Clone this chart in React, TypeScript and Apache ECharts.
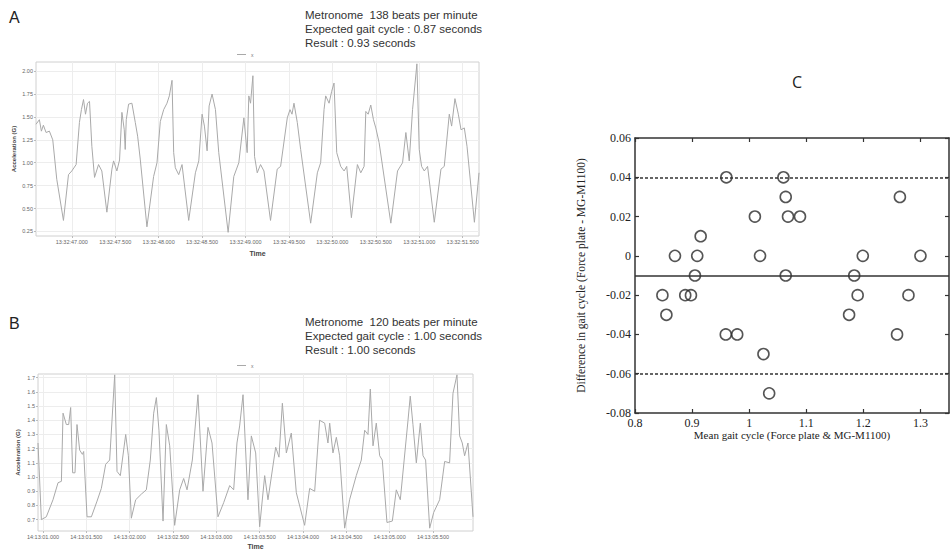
import React, { useEffect, useRef } from "react";
import * as echarts from "echarts";

// Panel A: accelerometer trace (seconds after 13:32:00, acceleration in G)
const aTrace: [number, number][] = [
  [46.588, 1.42], [46.627, 1.47], [46.65, 1.345], [46.673, 1.41], [46.704, 1.33], [46.742, 1.345],
  [46.781, 1.25], [46.827, 0.82], [46.904, 0.37], [46.962, 0.87], [47.0, 0.91], [47.05, 0.98],
  [47.088, 1.44], [47.111, 1.58], [47.135, 1.69], [47.158, 1.53], [47.181, 1.65], [47.204, 1.67],
  [47.231, 1.18], [47.262, 0.84], [47.308, 0.98], [47.346, 0.91], [47.404, 0.46], [47.462, 0.93],
  [47.481, 1.02], [47.519, 0.91], [47.55, 1.03], [47.577, 1.55], [47.604, 1.36], [47.615, 1.145],
  [47.627, 1.47], [47.654, 1.64], [47.692, 1.65], [47.731, 1.44], [47.758, 1.29], [47.788, 1.04],
  [47.865, 0.3], [47.942, 0.85], [47.981, 1.0], [48.019, 1.45], [48.058, 1.58], [48.096, 1.65],
  [48.123, 1.73], [48.154, 1.9], [48.173, 1.11], [48.192, 0.945], [48.231, 0.87], [48.269, 0.98],
  [48.346, 0.37], [48.423, 0.89], [48.462, 1.02], [48.5, 1.53], [48.527, 1.4], [48.558, 1.13],
  [48.581, 1.62], [48.615, 1.75], [48.654, 1.58], [48.692, 1.11], [48.8, 0.24], [48.865, 0.85],
  [48.923, 1.0], [48.981, 1.49], [49.019, 1.11], [49.038, 1.73], [49.058, 1.65], [49.085, 1.95],
  [49.104, 1.07], [49.135, 0.89], [49.173, 0.98], [49.212, 0.91], [49.288, 0.37], [49.365, 0.93],
  [49.404, 0.96], [49.481, 1.49], [49.512, 1.58], [49.535, 1.53], [49.558, 1.65], [49.596, 1.44],
  [49.635, 1.145], [49.75, 0.34], [49.827, 0.89], [49.865, 1.0], [49.904, 1.58], [49.923, 1.73],
  [49.962, 1.65], [49.992, 1.78], [50.019, 1.87], [50.05, 1.11], [50.096, 0.96], [50.135, 0.91],
  [50.165, 0.96], [50.219, 0.4], [50.288, 0.98], [50.327, 0.89], [50.365, 0.96], [50.385, 1.56],
  [50.412, 1.53], [50.442, 1.63], [50.473, 1.47], [50.5, 1.38], [50.538, 1.22], [50.673, 0.34],
  [50.75, 0.91], [50.808, 1.0], [50.846, 1.33], [50.885, 1.02], [50.923, 1.58], [50.973, 2.08],
  [51.0, 1.145], [51.027, 0.96], [51.058, 0.91], [51.096, 0.96], [51.173, 0.35], [51.25, 0.93],
  [51.288, 0.96], [51.346, 1.53], [51.373, 1.4], [51.411, 1.7], [51.45, 1.53], [51.481, 1.36],
  [51.519, 1.38], [51.55, 1.18], [51.635, 0.35], [51.688, 0.89],
];
const aTimeTicks = [47.0, 47.5, 48.0, 48.5, 49.0, 49.5, 50.0, 50.5, 51.0, 51.5];
const aAccTicks = [0.25, 0.5, 0.75, 1.0, 1.25, 1.5, 1.75, 2.0];
const aInfo = [
  "Metronome  138 beats per minute",
  "Expected gait cycle : 0.87 seconds",
  "Result : 0.93 seconds",
];

// Panel B: accelerometer trace (seconds after 14:13:00, acceleration in G)
const bTrace: [number, number][] = [
  [0.942, 1.24], [0.981, 0.7], [1.038, 0.72], [1.115, 0.84], [1.173, 0.96], [1.212, 0.97],
  [1.231, 1.45], [1.269, 1.37], [1.296, 1.37], [1.319, 1.49], [1.342, 1.03], [1.369, 1.03],
  [1.392, 1.37], [1.423, 1.19], [1.454, 1.16], [1.469, 1.18], [1.508, 0.72], [1.558, 0.72],
  [1.623, 0.83], [1.673, 0.92], [1.723, 1.09], [1.769, 1.12], [1.827, 1.72], [1.854, 1.04],
  [1.892, 1.01], [1.954, 1.3], [1.985, 1.15], [2.019, 0.71], [2.069, 0.84], [2.135, 0.88],
  [2.192, 0.91], [2.238, 1.12], [2.277, 1.45], [2.308, 1.56], [2.338, 1.33], [2.385, 0.69],
  [2.423, 1.37], [2.462, 1.22], [2.519, 0.66], [2.577, 0.91], [2.623, 0.99], [2.662, 0.91],
  [2.723, 1.12], [2.788, 1.58], [2.846, 0.9], [2.904, 1.35], [2.95, 1.24], [3.019, 0.72],
  [3.085, 0.82], [3.154, 0.94], [3.2, 0.91], [3.238, 1.24], [3.269, 1.36], [3.308, 1.58],
  [3.365, 0.84], [3.404, 1.29], [3.454, 1.17], [3.5, 0.65], [3.558, 1.01], [3.596, 0.84],
  [3.685, 1.21], [3.723, 1.14], [3.762, 1.52], [3.808, 1.17], [3.865, 1.31], [3.923, 0.89],
  [4.019, 0.66], [4.077, 0.92], [4.135, 0.9], [4.192, 1.4], [4.25, 1.38], [4.288, 1.24],
  [4.308, 1.38], [4.346, 1.17], [4.385, 1.28], [4.423, 1.15], [4.481, 0.64], [4.538, 0.84],
  [4.615, 1.01], [4.673, 1.12], [4.712, 1.33], [4.75, 1.3], [4.777, 1.62], [4.808, 1.22],
  [4.846, 1.38], [4.885, 1.15], [4.915, 1.12], [4.969, 0.68], [5.031, 0.69], [5.077, 0.91],
  [5.123, 0.84], [5.212, 1.4], [5.238, 1.57], [5.269, 1.37], [5.308, 1.1], [5.331, 1.24],
  [5.354, 1.38], [5.385, 1.15], [5.415, 1.12], [5.462, 0.64], [5.508, 0.75], [5.577, 0.84],
  [5.635, 1.11], [5.692, 1.1], [5.731, 1.59], [5.777, 1.72], [5.808, 1.29], [5.838, 1.24],
  [5.865, 1.15], [5.904, 1.24], [5.962, 0.72],
];
const bTimeTicks = [1.0, 1.5, 2.0, 2.5, 3.0, 3.5, 4.0, 4.5, 5.0, 5.5];
const bAccTicks = [0.7, 0.8, 0.9, 1.0, 1.1, 1.2, 1.3, 1.4, 1.5, 1.6, 1.7];
const bInfo = [
  "Metronome  120 beats per minute",
  "Expected gait cycle : 1.00 seconds",
  "Result : 1.00 seconds",
];

// Panel C: Bland-Altman points [mean gait cycle, difference]
const cPoints: [number, number][] = [
  [0.96, 0.04], [1.06, 0.04], [1.064, 0.03], [1.264, 0.03], [1.01, 0.02], [1.068, 0.02],
  [1.089, 0.02], [0.915, 0.01], [0.87, 0.0], [0.909, 0.0], [1.019, 0.0], [1.199, 0.0],
  [1.3, 0.0], [0.905, -0.01], [1.064, -0.01], [1.184, -0.01], [0.848, -0.02], [0.888, -0.02],
  [0.898, -0.02], [1.19, -0.02], [1.279, -0.02], [0.855, -0.03], [1.175, -0.03], [0.959, -0.04],
  [0.979, -0.04], [1.259, -0.04], [1.025, -0.05], [1.035, -0.07],
];
const cBias = -0.0095;
const cUpper = 0.0435;
const cLower = -0.0625;
const cXTicks = [0.8, 0.9, 1.0, 1.1, 1.2, 1.3];
const cYTicks = [-0.08, -0.06, -0.04, -0.02, 0, 0.02, 0.04, 0.06];

const SANS = '"Liberation Sans", Arial, sans-serif';
const SERIF = '"Liberation Serif", "Times New Roman", serif';

function traceX(grid: number, min: number, max: number, ticks: number[], prefix: string, nameGap: number) {
  return {
    gridIndex: grid,
    type: "value",
    min,
    max,
    axisLine: { show: false },
    axisTick: { show: true, customValues: ticks, length: 2, lineStyle: { color: "#bbb" } },
    axisLabel: {
      customValues: ticks,
      fontSize: 5.5,
      fontFamily: SANS,
      color: "#666",
      margin: 3,
      formatter: (v: number) => prefix + v.toFixed(3).padStart(6, "0"),
    },
    splitLine: { show: true, lineStyle: { color: "#ededed", width: 1 } },
    name: "Time",
    nameLocation: "middle",
    nameGap,
    nameTextStyle: { fontSize: 7, fontWeight: "bold", fontFamily: SANS, color: "#444" },
  };
}

function traceY(grid: number, min: number, max: number, ticks: number[], digits: number, nameGap: number) {
  return {
    gridIndex: grid,
    type: "value",
    min,
    max,
    axisLine: { show: false },
    axisTick: { show: true, customValues: ticks, length: 2, lineStyle: { color: "#bbb" } },
    axisLabel: {
      customValues: ticks,
      fontSize: 5.5,
      fontFamily: SANS,
      color: "#666",
      margin: 3,
      formatter: (v: number) => v.toFixed(digits),
    },
    splitLine: { show: true, lineStyle: { color: "#ededed", width: 1 } },
    name: "Acceleration (G)",
    nameLocation: "middle",
    nameRotate: 90,
    nameGap,
    nameTextStyle: { fontSize: 6, fontWeight: "bold", fontFamily: SANS, color: "#444" },
  };
}

export default function App() {
  const ref = useRef<HTMLDivElement>(null);

  useEffect(() => {
    if (!ref.current) return;
    const chart = echarts.init(ref.current, undefined, { renderer: "svg" });
    const cAxisLine = { show: true, onZero: false, lineStyle: { color: "#333", width: 1.5 } };
    const cTick = (vals: number[]) => ({
      show: true,
      inside: true,
      length: 4,
      customValues: vals,
      lineStyle: { color: "#333", width: 1.2 },
    });
    const legendStyle = {
      data: ["x"],
      left: 237,
      icon: "rect",
      itemWidth: 9,
      itemHeight: 1,
      itemGap: 2,
      padding: 0,
      textStyle: { fontSize: 5, color: "#777", fontFamily: SANS },
      selectedMode: false,
    };
    chart.setOption({
      animation: false,
      backgroundColor: "#fff",
      grid: [
        { left: 36, top: 62, width: 443, height: 174, show: true, borderColor: "#d0d0d0", borderWidth: 1, backgroundColor: "#fff" },
        { left: 38, top: 374, width: 435, height: 158, show: true, borderColor: "#d0d0d0", borderWidth: 1, backgroundColor: "#fff" },
        { left: 635, top: 138, width: 314, height: 275, show: false },
      ],
      legend: [
        { ...legendStyle, top: 52 },
        { ...legendStyle, top: 363 },
      ],
      xAxis: [
        traceX(0, 46.588, 51.688, aTimeTicks, "13:32:", 14),
        traceX(1, 0.942, 5.962, bTimeTicks, "14:13:", 12),
        {
          gridIndex: 2,
          type: "value",
          position: "bottom",
          min: 0.8,
          max: 1.35,
          axisLine: cAxisLine,
          axisTick: cTick(cXTicks),
          axisLabel: {
            customValues: cXTicks,
            fontSize: 12,
            fontFamily: SERIF,
            color: "#222",
            margin: 4,
            formatter: (v: number) => String(Math.round(v * 10) / 10),
          },
          splitLine: { show: false },
          name: "Mean gait cycle (Force plate & MG-M1100)",
          nameLocation: "middle",
          nameGap: 16,
          nameTextStyle: { fontSize: 11, fontFamily: SERIF, color: "#222" },
        },
        {
          gridIndex: 2,
          type: "value",
          position: "top",
          min: 0.8,
          max: 1.35,
          axisLine: cAxisLine,
          axisTick: cTick(cXTicks),
          axisLabel: { show: false },
          splitLine: { show: false },
        },
      ],
      yAxis: [
        traceY(0, 0.2, 2.1, aAccTicks, 2, 19),
        traceY(1, 0.62, 1.726, bAccTicks, 1, 17),
        {
          gridIndex: 2,
          type: "value",
          position: "left",
          min: -0.08,
          max: 0.06,
          axisLine: cAxisLine,
          axisTick: cTick(cYTicks),
          axisLabel: {
            customValues: cYTicks,
            fontSize: 12,
            fontFamily: SERIF,
            color: "#222",
            margin: 4,
            formatter: (v: number) => (Math.abs(v) < 1e-9 ? "0" : v.toFixed(2)),
          },
          splitLine: { show: false },
          name: "Difference in gait cycle (Force plate - MG-M1100)",
          nameLocation: "middle",
          nameRotate: 90,
          nameGap: 48,
          nameTextStyle: { fontSize: 11.5, fontFamily: SERIF, color: "#222" },
        },
        {
          gridIndex: 2,
          type: "value",
          position: "right",
          min: -0.08,
          max: 0.06,
          axisLine: cAxisLine,
          axisTick: cTick(cYTicks),
          axisLabel: { show: false },
          splitLine: { show: false },
        },
      ],
      series: [
        {
          name: "x",
          type: "line",
          xAxisIndex: 0,
          yAxisIndex: 0,
          data: aTrace,
          showSymbol: false,
          symbol: "none",
          lineStyle: { color: "#a9a9a9", width: 1 },
          itemStyle: { color: "#a9a9a9" },
        },
        {
          name: "x",
          type: "line",
          xAxisIndex: 1,
          yAxisIndex: 1,
          data: bTrace,
          showSymbol: false,
          symbol: "none",
          lineStyle: { color: "#a9a9a9", width: 1 },
          itemStyle: { color: "#a9a9a9" },
        },
        {
          type: "scatter",
          xAxisIndex: 2,
          yAxisIndex: 2,
          data: cPoints,
          symbol: "circle",
          symbolSize: 11,
          itemStyle: { color: "rgba(0,0,0,0)", borderColor: "#2a2a2a", borderWidth: 1.6 },
          markLine: {
            silent: true,
            symbol: "none",
            label: { show: false },
            data: [
              { yAxis: cBias, lineStyle: { type: "solid", color: "#333", width: 1.5 } },
              { yAxis: cUpper, lineStyle: { type: [3, 2], color: "#333", width: 1.5 } },
              { yAxis: cLower, lineStyle: { type: [3, 2], color: "#333", width: 1.5 } },
            ],
          },
        },
      ],
      graphic: [
        { type: "text", x: 9, y: 9, style: { text: "A", fontSize: 16, fontFamily: SANS, fill: "#222" } },
        { type: "text", x: 9, y: 315, style: { text: "B", fontSize: 16, fontFamily: SANS, fill: "#222" } },
        { type: "text", x: 792, y: 74, style: { text: "C", fontSize: 16, fontFamily: '"Open Sans", sans-serif', fill: "#222" } },
        {
          type: "text",
          x: 305,
          y: 8,
          style: { text: aInfo.join("\n"), fontSize: 11.5, lineHeight: 14, fontFamily: SANS, fill: "#333" },
        },
        {
          type: "text",
          x: 305,
          y: 315,
          style: { text: bInfo.join("\n"), fontSize: 11.5, lineHeight: 14, fontFamily: SANS, fill: "#333" },
        },
      ],
    });
    return () => chart.dispose();
  }, []);

  return (
    <div
      ref={ref}
      style={{ position: "absolute", left: 0, top: 0, width: 950, height: 551 }}
    />
  );
}
